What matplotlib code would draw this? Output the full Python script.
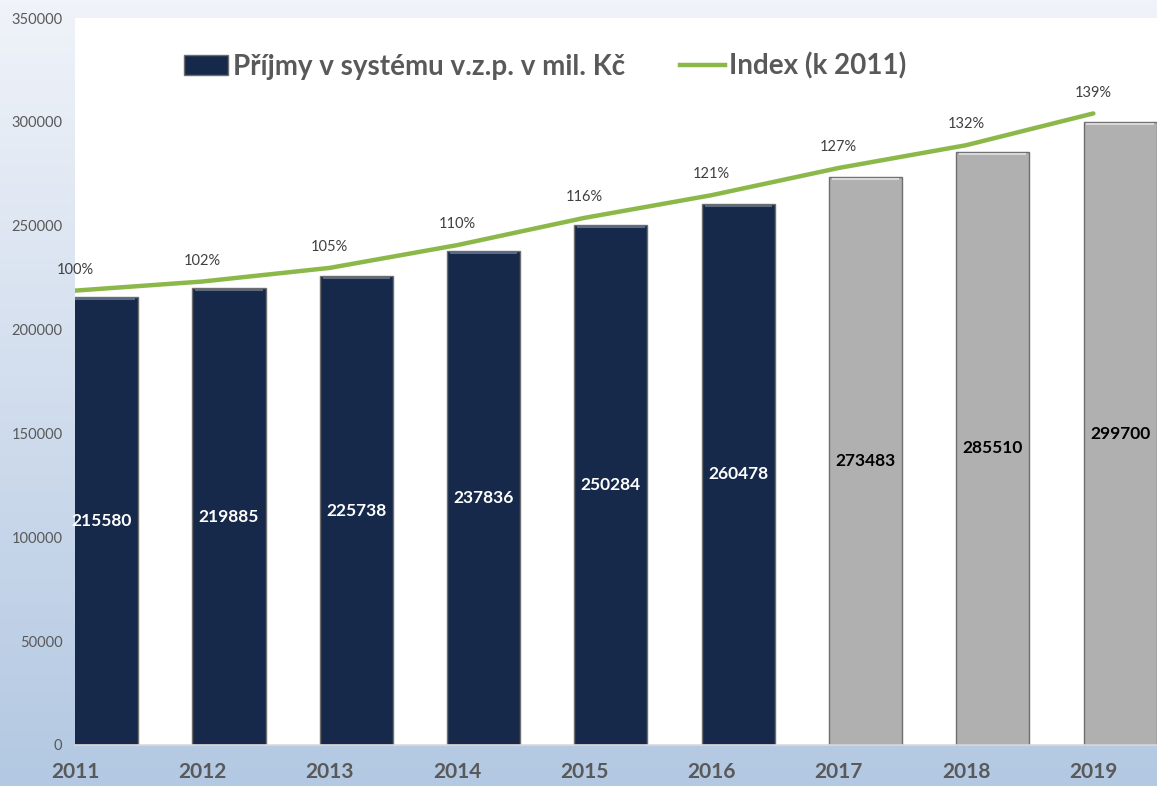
import numpy as np
import matplotlib
matplotlib.use("Agg")
import matplotlib.pyplot as plt
from matplotlib.patches import Patch
from matplotlib.lines import Line2D

years = ["2011", "2012", "2013", "2014", "2015", "2016", "2017", "2018", "2019"]
prijmy = [215580, 219885, 225738, 237836, 250284, 260478, 273483, 285510, 299700]
index_pct = [100, 102, 105, 110, 116, 121, 127, 132, 139]
n_actual = 6  # first six bars are actual (navy), rest are projections (gray)

plt.rcParams['font.family'] = ['Lato', 'DejaVu Sans']

NAVY = "#16294a"
GRAY = "#b0b0b0"
GREEN = "#8cb84a"
TXT = "#595959"

fig = plt.figure(figsize=(11.57, 7.86), dpi=100)

# background gradient
bg = fig.add_axes([0, 0, 1, 1], zorder=-10)
top = np.array([0xf0, 0xf3, 0xf9]) / 255
bot = np.array([0xb3, 0xc8, 0xe2]) / 255
t = np.linspace(0, 1, 256)[:, None]
grad = top[None, :] * (1 - t) + bot[None, :] * t
bg.imshow(grad[:, None, :], aspect='auto', extent=[0, 1, 0, 1])
bg.set_axis_off()

ax = fig.add_axes([75 / 1157, 1 - 745 / 786, (1157 - 75) / 1157, (745 - 18) / 786])
ax.set_facecolor("white")

x = np.arange(len(years))
off = 0.21
w = 0.574
colors = [NAVY if i < n_actual else GRAY for i in range(len(years))]
bars = ax.bar(x + off, prijmy, width=w, color=colors, edgecolor="#6e6e6e",
              linewidth=1.0, zorder=2)
# bevel highlight on top of bars
for b in bars:
    bx, bw, bh = b.get_x(), b.get_width(), b.get_height()
    ax.plot([bx + bw * 0.04, bx + bw * 0.96], [bh - 900, bh - 900],
            color="#d8d8d8" if b.get_facecolor()[0] > 0.5 else "#5a6a85",
            lw=1.5, zorder=3, solid_capstyle='butt')

for i, (b, v) in enumerate(zip(bars, prijmy)):
    ax.text(b.get_x() + b.get_width() / 2, v / 2, str(v), ha='center', va='center',
            fontsize=12.5, fontweight='bold',
            color='white' if i < n_actual else 'black', zorder=4)

ax.set_xlim(0, 8.5)
ax.set_ylim(0, 350000)
ax.set_yticks(np.arange(0, 350001, 50000))
ax.set_yticklabels([str(v) for v in range(0, 350001, 50000)], fontsize=10.5, color=TXT)
ax.set_xticks(x)
ax.set_xticklabels(years, fontsize=15, fontweight='bold', color=TXT)
ax.tick_params(axis='both', length=0)
ax.tick_params(axis='x', pad=12)
ax.tick_params(axis='y', pad=9)
for s in ["left", "right", "top"]:
    ax.spines[s].set_visible(False)
ax.spines["bottom"].set_color("#d9d9d9")
ax.spines["bottom"].set_linewidth(1.2)

ax2 = ax.twinx()
ax2.set_ylim(0, 160)
ax2.set_xlim(0, 8.5)
ax2.plot(x, index_pct, color=GREEN, lw=3.2, zorder=5, solid_capstyle='round')
for xi, p in zip(x, index_pct):
    ax2.annotate(f"{p}%", (xi, p), xytext=(0, 15), textcoords='offset points',
                 ha='center', va='center', fontsize=10.5, color="#404040")
ax2.set_axis_off()

handles = [Patch(facecolor=NAVY, edgecolor="#6e6e6e"),
           Line2D([0], [0], color=GREEN, lw=3.2)]
labels = ["Příjmy v systému v.z.p. v mil. Kč", "Index (k 2011)"]
fig.legend(handles, labels, loc='center', bbox_to_anchor=(545 / 1157, 1 - 66 / 786),
           ncol=2, frameon=False, prop={'size': 20, 'weight': 'bold'},
           labelcolor=TXT, handlelength=1.6, handletextpad=0.15, columnspacing=2.0)

fig.savefig("out.png", dpi=100)
